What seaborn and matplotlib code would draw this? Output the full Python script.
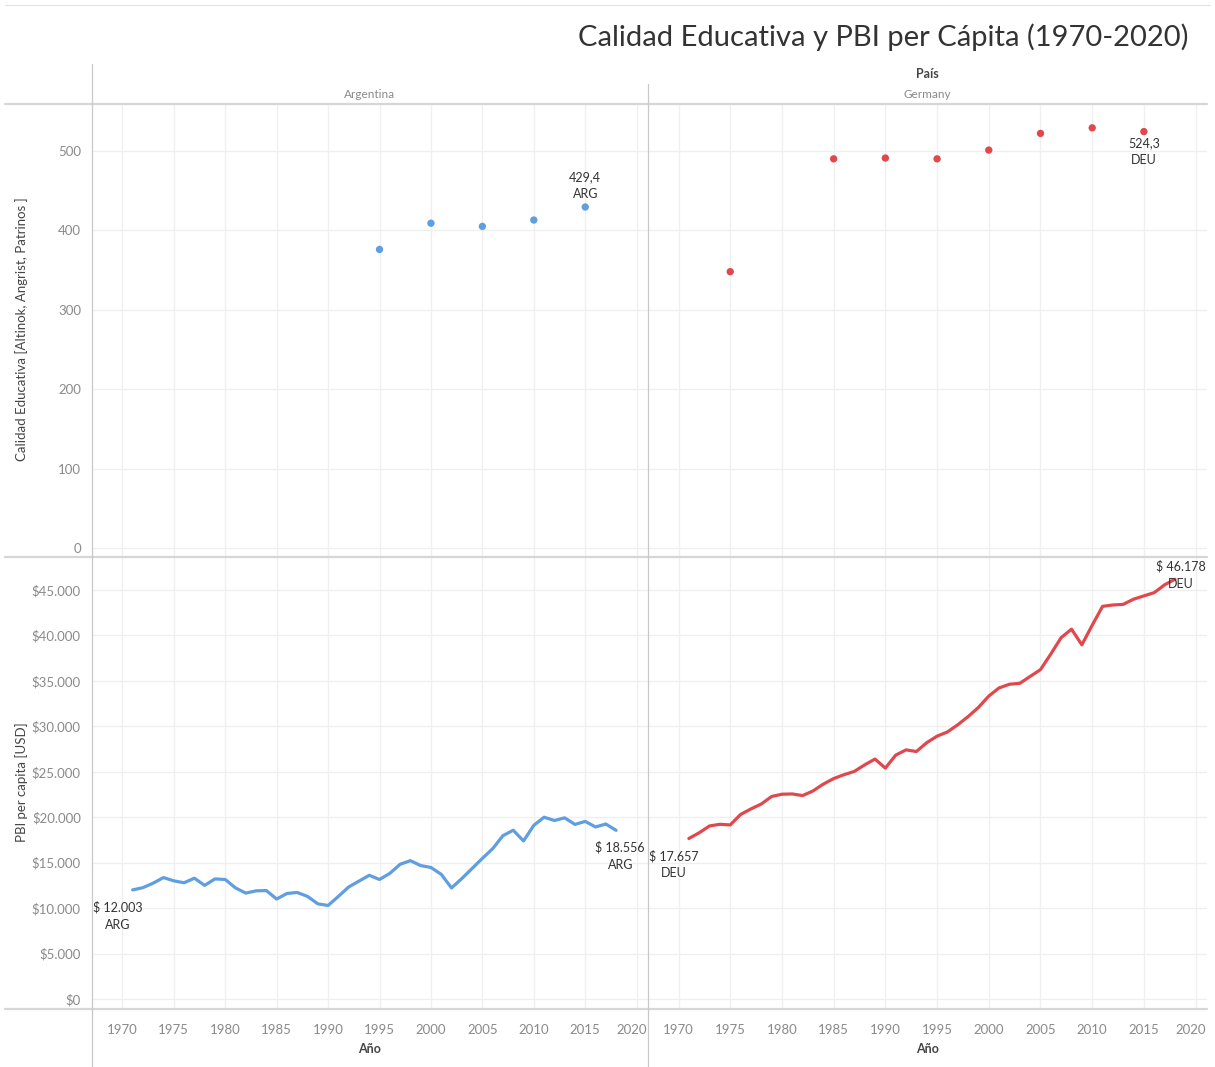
import numpy as np
import pandas as pd
import matplotlib.pyplot as plt
import matplotlib.transforms as mtransforms
from matplotlib.lines import Line2D
import seaborn as sns

# datos
anios_pbi = list(range(1971, 2019))
pbi_arg = [12003, 12250, 12750, 13360, 13000, 12790, 13290, 12500, 13210, 13150,
           12220, 11650, 11900, 11930, 11000, 11610, 11720, 11290, 10470, 10290,
           11290, 12320, 12970, 13610, 13150, 13820, 14820, 15220, 14680, 14470,
           13720, 12220, 13250, 14360, 15470, 16540, 17970, 18570, 17390, 19110,
           20000, 19640, 19930, 19210, 19540, 18930, 19250, 18556]
pbi_deu = [17657, 18290, 19040, 19220, 19150, 20300, 20910, 21450, 22280, 22530,
           22560, 22380, 22890, 23640, 24250, 24680, 25040, 25760, 26400, 25400,
           26830, 27410, 27230, 28200, 28920, 29380, 30170, 31070, 32080, 33330,
           34230, 34630, 34730, 35490, 36240, 37960, 39760, 40690, 38970, 41120,
           43200, 43350, 43420, 43990, 44350, 44710, 45570, 46178]
anios_edu_arg = [1995, 2000, 2005, 2010, 2015]
edu_arg = [376, 409, 405, 413, 429.4]
anios_edu_deu = [1975, 1985, 1990, 1995, 2000, 2005, 2010, 2015]
edu_deu = [348, 490, 491, 490, 501, 522, 529, 524.3]

paises = ['Argentina', 'Germany']
codigos = ['ARG', 'DEU']
colores = ['#5f9ee0', '#e0484d']
ticks_anio = list(range(1970, 2021, 5))
ticks_edu = list(range(0, 501, 100))
ticks_pbi = list(range(0, 45001, 5000))

sns.set_style('white')
plt.rcParams['font.family'] = ['Lato', 'DejaVu Sans']

W, H = 1215, 1067
fig = plt.figure(figsize=(W / 100, H / 100), dpi=100)


def fx(px):
    return px / W


def fy(py):
    return 1 - py / H


xs = [92, 648, 1207]
T1, MID, B = 104, 557, 1009

edu = [(anios_edu_arg, edu_arg), (anios_edu_deu, edu_deu)]
pbi = [pbi_arg, pbi_deu]

gris_txt = '#8a8a8a'
oscuro = '#333333'

def fmt_pesos(v):
    return '$' + f'{v:,.0f}'.replace(',', '.')

ejes_bot = []
for i in range(2):
    ax_top = fig.add_axes([fx(xs[i]), fy(MID), fx(xs[i + 1]) - fx(xs[i]), fy(T1) - fy(MID)])
    ax_bot = fig.add_axes([fx(xs[i]), fy(B), fx(xs[i + 1]) - fx(xs[i]), fy(MID) - fy(B)])
    ejes_bot.append(ax_bot)

    df_e = pd.DataFrame({'anio': edu[i][0], 'valor': edu[i][1]})
    sns.scatterplot(data=df_e, x='anio', y='valor', ax=ax_top, color=colores[i],
                    s=28, edgecolor='none', zorder=3)
    df_p = pd.DataFrame({'anio': anios_pbi, 'valor': pbi[i]})
    sns.lineplot(data=df_p, x='anio', y='valor', ax=ax_bot, color=colores[i],
                 linewidth=2.3, zorder=3)

    for ax in (ax_top, ax_bot):
        ax.set_facecolor('none')
        ax.set_xlim(1967.05, 2021.1)
        ax.set_xticks(ticks_anio)
        ax.grid(True, color='#efefef', linewidth=0.9)
        ax.set_axisbelow(True)
        for s in ax.spines.values():
            s.set_visible(False)
        ax.tick_params(length=0, labelsize=9.5, colors=gris_txt, pad=8)
        ax.set_xlabel('')
        ax.set_ylabel('')

    ax_top.set_ylim(-11, 559)
    ax_top.set_yticks(ticks_edu)
    ax_top.tick_params(axis='x', labelbottom=False)
    ax_bot.set_ylim(-1100, 48630)
    ax_bot.set_yticks(ticks_pbi)
    ax_bot.set_xticklabels([str(t) for t in ticks_anio])
    ax_bot.tick_params(axis='x', pad=11)
    # el ultimo año se corre un poco para que entre en el panel
    ult_lbl = ax_bot.get_xticklabels()[-1]
    ult_lbl.set_transform(ult_lbl.get_transform() +
                          mtransforms.ScaledTranslation(-5 / 100, 0, fig.dpi_scale_trans))
    if i == 0:
        ax_top.set_yticklabels([str(t) for t in ticks_edu])
        ax_bot.set_yticklabels([fmt_pesos(t) for t in ticks_pbi])
    else:
        ax_top.tick_params(axis='y', labelleft=False)
        ax_bot.tick_params(axis='y', labelleft=False)

    # etiquetas de los puntos
    ult = edu[i][1][-1]
    txt_edu = f'{ult:.1f}'.replace('.', ',') + '\n' + codigos[i]
    if i == 0:
        ax_top.annotate(txt_edu, (edu[i][0][-1], ult), xytext=(0, 5), textcoords='offset points',
                        ha='center', va='bottom', fontsize=9, color=oscuro, linespacing=1.5)
    else:
        ax_top.annotate(txt_edu, (edu[i][0][-1], ult), xytext=(0, -4), textcoords='offset points',
                        ha='center', va='top', fontsize=9, color=oscuro, linespacing=1.5)

    ini = f'$ {pbi[i][0]:,.0f}'.replace(',', '.') + '\n' + codigos[i]
    fin = f'$ {pbi[i][-1]:,.0f}'.replace(',', '.') + '\n' + codigos[i]
    ax_bot.annotate(ini, (anios_pbi[0], pbi[i][0]), xytext=(-11, -8), textcoords='offset points',
                    ha='center', va='top', fontsize=9, color=oscuro, linespacing=1.5,
                    annotation_clip=False, zorder=5)
    if i == 0:
        ax_bot.annotate(fin, (anios_pbi[-1], pbi[i][-1]), xytext=(3, -8), textcoords='offset points',
                        ha='center', va='top', fontsize=9, color=oscuro, linespacing=1.5,
                        annotation_clip=False, zorder=5)
    else:
        ax_bot.annotate(fin, (anios_pbi[-1], pbi[i][-1]), xytext=(4, 3), textcoords='offset points',
                        ha='center', va='center', fontsize=9, color=oscuro, linespacing=1.5,
                        annotation_clip=False, zorder=5)

    centro = (xs[i] + xs[i + 1]) / 2
    fig.text(fx(centro), fy(95), paises[i], ha='center', va='center', fontsize=8.5, color=gris_txt)
    fig.text(fx(centro), fy(1049), 'Año', ha='center', va='center', fontsize=9,
             color='#444444', fontweight='bold')

fig.text(fx(927), fy(74), 'País', ha='center', va='center', fontsize=9,
         color='#444444', fontweight='bold')
fig.text(fx(1188), fy(37), 'Calidad Educativa y PBI per Cápita (1970-2020)', ha='right',
         va='center', fontsize=21, color='#333333')
fig.text(fx(22), fy(329), 'Calidad Educativa [Altinok, Angrist, Patrinos ]', rotation=90,
         ha='center', va='center', fontsize=9.5, color='#444444')
fig.text(fx(22), fy(782), 'PBI per capita [USD]', rotation=90,
         ha='center', va='center', fontsize=9.5, color='#444444')

# lineas separadoras
def linea(x0, y0, x1, y1, color, lw):
    fig.add_artist(Line2D([fx(x0), fx(x1)], [fy(y0), fy(y1)], color=color, linewidth=lw))

linea(5, 5, 1210, 5, '#e3e3e3', 0.8)
linea(5, T1, 1207, T1, '#d6d6d6', 1.6)
linea(5, MID, 1207, MID, '#d6d6d6', 1.6)
linea(5, B, 1207, B, '#d6d6d6', 1.6)
linea(92, 64, 92, 1067, '#c8c8c8', 0.9)
linea(648, 84, 648, 1067, '#c8c8c8', 0.9)

plt.savefig('out.png', dpi=100)
